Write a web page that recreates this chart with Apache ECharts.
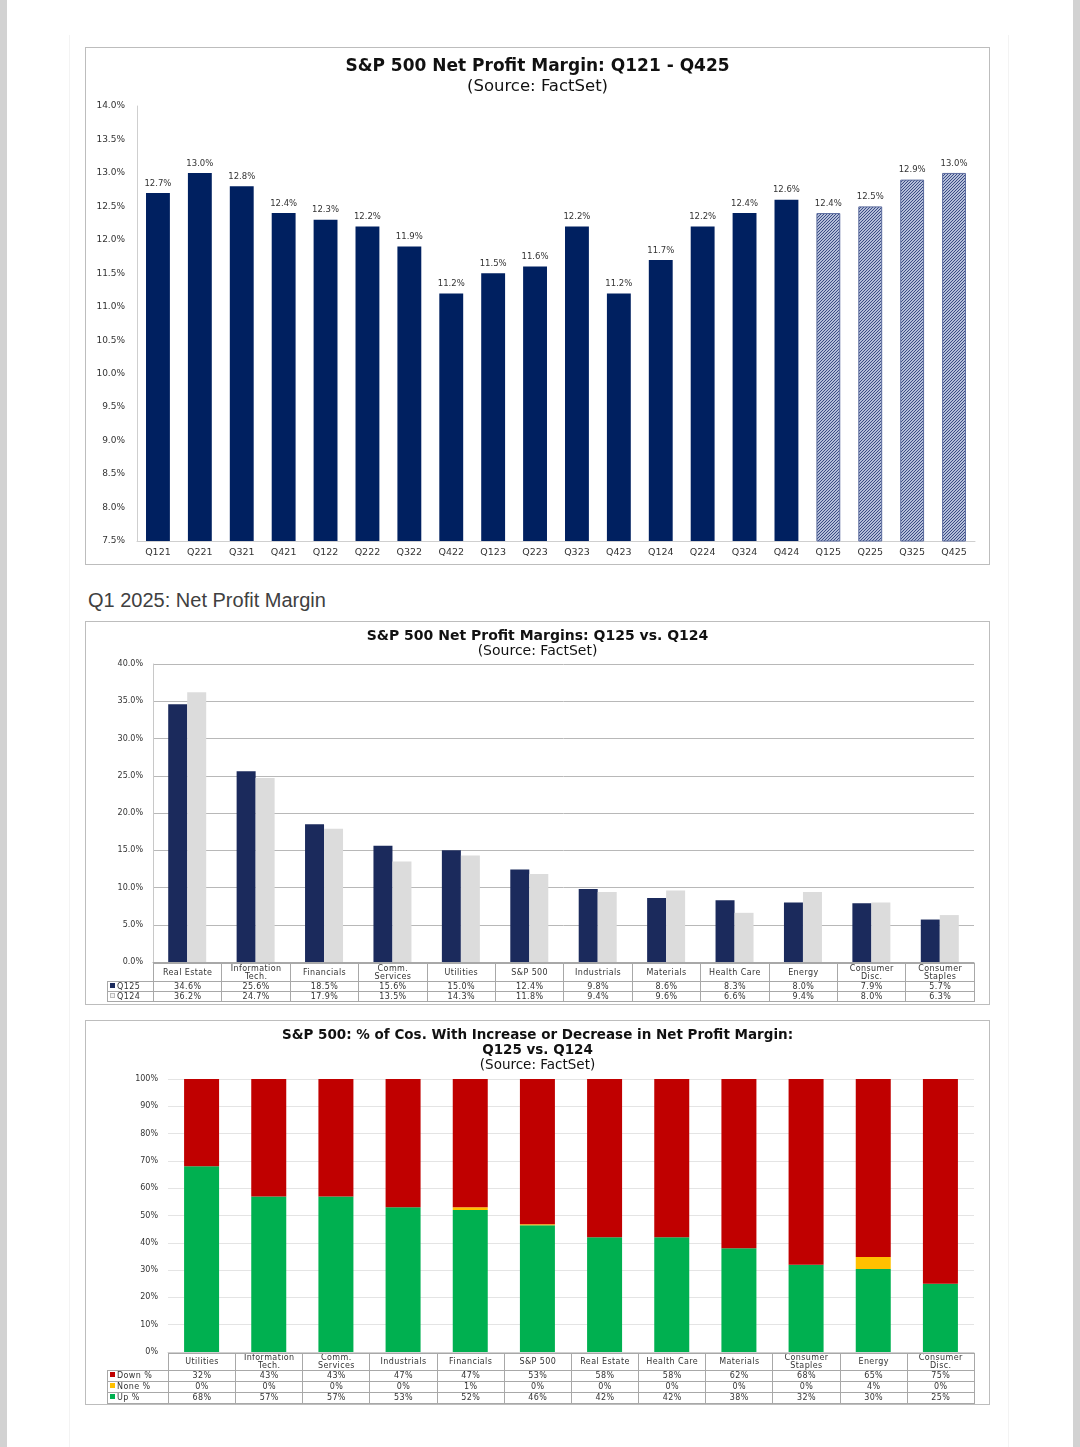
<!DOCTYPE html>
<html><head><meta charset="utf-8">
<script src="https://cdn.jsdelivr.net/npm/echarts@6/dist/echarts.min.js"></script>
<style>
body{margin:0;background:#fff;width:1080px;height:1447px;position:relative;overflow:hidden;font-family:"DejaVu Sans",sans-serif;}
.strip{position:absolute;top:0;width:7px;height:1447px;background:#d2d2d2;}
.page{position:absolute;left:69px;top:35px;width:938px;height:1412px;border-left:1px solid #f3f3f3;border-right:1px solid #f3f3f3;}
.frame{position:absolute;border:1px solid #bdbdbd;box-sizing:border-box;pointer-events:none;}
.chart{position:absolute;}
.sec{position:absolute;left:88px;top:589px;font-family:"Liberation Sans",sans-serif;font-size:20px;color:#404040;}
table.dt{position:absolute;border-collapse:collapse;table-layout:fixed;font-size:8px;color:#333;letter-spacing:0.4px;}
table.dt td{border:1px solid #a8a8a8;text-align:center;padding:0;white-space:nowrap;overflow:hidden;}
table.dt td.blank{border:none;}
table.dt td.lg{text-align:left;padding-left:2px;}
.sq{display:inline-block;width:5px;height:5px;margin-right:2px;vertical-align:middle;position:relative;top:-1px;}
</style></head><body>
<div class="strip" style="left:0"></div>
<div class="strip" style="left:1073px"></div>
<div class="page"></div>

<div id="c1" class="chart" style="left:85px;top:47px;width:905px;height:518px"></div>
<div class="frame" style="left:85px;top:47px;width:905px;height:518px"></div>

<div class="sec">Q1 2025: Net Profit Margin</div>

<div id="c2" class="chart" style="left:85px;top:621px;width:905px;height:384px"></div>
<div class="frame" style="left:85px;top:621px;width:905px;height:384px"></div>

<div id="c3" class="chart" style="left:85px;top:1020px;width:905px;height:385px"></div>
<div class="frame" style="left:85px;top:1020px;width:905px;height:385px"></div>

<script>
// ---------- Chart 1 data ----------
const quarters = ['Q121','Q221','Q321','Q421','Q122','Q222','Q322','Q422','Q123','Q223','Q323','Q423','Q124','Q224','Q324','Q424','Q125','Q225','Q325','Q425'];
const marginValues = [12.7,13.0,12.8,12.4,12.3,12.2,11.9,11.2,11.5,11.6,12.2,11.2,11.7,12.2,12.4,12.6,12.4,12.5,12.9,13.0];
const estimateQuarters = ['Q125','Q225','Q325','Q425'];

// ---------- Chart 2 data ----------
const sectors2 = ['Real Estate','Information\nTech.','Financials','Comm.\nServices','Utilities','S&P 500','Industrials','Materials','Health Care','Energy','Consumer\nDisc.','Consumer\nStaples'];
const q125Margins = [34.6,25.6,18.5,15.6,15.0,12.4,9.8,8.6,8.3,8.0,7.9,5.7];
const q124Margins = [36.2,24.7,17.9,13.5,14.3,11.8,9.4,9.6,6.6,9.4,8.0,6.3];

// ---------- Chart 3 data ----------
const sectors3 = ['Utilities','Information\nTech.','Comm.\nServices','Industrials','Financials','S&P 500','Real Estate','Health Care','Materials','Consumer\nStaples','Energy','Consumer\nDisc.'];
const downPct = [32,43,43,47,47,53.2,58,58,62,68,65.2,75];
const nonePct = [0,0,0,0,1,0.4,0,0,0,0,4.4,0];
const upPct   = [68,57,57,53,52,46.4,42,42,38,32,30.4,25];

const FONT = 'DejaVu Sans';

function hatch(){
  const c=document.createElement('canvas');c.width=c.height=3;
  const g=c.getContext('2d');
  g.fillStyle='#b4bed9';g.fillRect(0,0,3,3);
  g.strokeStyle='#3a4c84';g.lineWidth=1;
  g.beginPath();g.moveTo(0,3);g.lineTo(3,0);g.moveTo(-1,1);g.lineTo(1,-1);g.moveTo(2,4);g.lineTo(4,2);g.stroke();
  return c;
}
const hatchPattern={image:hatch(),repeat:'repeat'};

// ---------- Chart 1 ----------
const c1=echarts.init(document.getElementById('c1'));
c1.setOption({
  animation:false,
  title:{text:'S&P 500 Net Profit Margin: Q121 - Q425',subtext:'(Source: FactSet)',left:'center',top:6,itemGap:3,
    textStyle:{fontFamily:FONT,fontWeight:'bold',fontSize:17,color:'#111'},
    subtextStyle:{fontFamily:FONT,fontSize:16.5,color:'#111'}},
  grid:{left:52,right:15,top:59,bottom:24},
  xAxis:{type:'category',data:quarters,axisLine:{lineStyle:{color:'#cfcfcf'}},axisTick:{show:false},
    axisLabel:{color:'#333',fontSize:9.5,margin:7,fontFamily:FONT}},
  yAxis:{type:'value',min:7.5,max:14,interval:0.5,axisLine:{show:true,lineStyle:{color:'#cfcfcf'}},splitLine:{show:false},
    axisLabel:{formatter:v=>v.toFixed(1)+'%',fontSize:9,color:'#333',margin:12,fontFamily:FONT}},
  series:[{type:'bar',barWidth:'57%',
    data:marginValues.map((v,i)=>estimateQuarters.includes(quarters[i])?{value:v,itemStyle:{color:hatchPattern,borderColor:'#5c6c9e',borderWidth:1}}:v),
    itemStyle:{color:'#002060'},
    label:{show:true,position:'top',distance:5,fontSize:8.5,color:'#333',fontFamily:FONT,formatter:p=>p.value.toFixed(1)+'%'}}]
});

// ---------- Chart 2 ----------
const c2=echarts.init(document.getElementById('c2'));
c2.setOption({
  animation:false,
  title:{text:'S&P 500 Net Profit Margins: Q125 vs. Q124',subtext:'(Source: FactSet)',left:'center',top:3,itemGap:1,
    textStyle:{fontFamily:FONT,fontWeight:'bold',fontSize:14,color:'#111'},
    subtextStyle:{fontFamily:FONT,fontSize:14,color:'#111'}},
  grid:{left:68,right:16,top:43,bottom:43},
  xAxis:{type:'category',data:sectors2,axisLine:{lineStyle:{color:'#a8a8a8'}},axisTick:{show:false},axisLabel:{show:false}},
  yAxis:{type:'value',min:0,max:40,interval:5,axisLine:{show:true,lineStyle:{color:'#c8c8c8'}},
    splitLine:{lineStyle:{color:'#b8b8b8'}},
    axisLabel:{formatter:v=>v.toFixed(1)+'%',fontSize:8,color:'#333',margin:10,fontFamily:FONT}},
  series:[
    {name:'Q125',type:'bar',data:q125Margins,barWidth:19,barGap:'0%',itemStyle:{color:'#1b2a5c'}},
    {name:'Q124',type:'bar',data:q124Margins,barWidth:19,barGap:'0%',itemStyle:{color:'#dcdcdc'}}
  ]
});

// ---------- Chart 3 ----------
const c3=echarts.init(document.getElementById('c3'));
c3.setOption({
  animation:false,
  title:{text:'S&P 500: % of Cos. With Increase or Decrease in Net Profit Margin:\nQ125 vs. Q124',subtext:'(Source: FactSet)',left:'center',top:3,itemGap:0,
    textStyle:{fontFamily:FONT,fontWeight:'bold',fontSize:13.5,color:'#111',lineHeight:15},
    subtextStyle:{fontFamily:FONT,fontSize:13.5,color:'#111'}},
  grid:{left:83,right:16,top:59,bottom:53},
  xAxis:{type:'category',data:sectors3,axisLine:{lineStyle:{color:'#d0d0d0'}},axisTick:{show:false},axisLabel:{show:false}},
  yAxis:{type:'value',min:0,max:100,interval:10,axisLine:{show:false},
    splitLine:{lineStyle:{color:'#e4e4e4'}},
    axisLabel:{formatter:v=>v+'%',fontSize:8,color:'#333',margin:10,fontFamily:FONT}},
  series:[
    {name:'Up %',type:'bar',stack:'a',data:upPct,barWidth:35,itemStyle:{color:'#00b050'}},
    {name:'None %',type:'bar',stack:'a',data:nonePct,barWidth:35,itemStyle:{color:'#ffc000'}},
    {name:'Down %',type:'bar',stack:'a',data:downPct,barWidth:35,itemStyle:{color:'#c00000'}}
  ]
});

// ---------- data tables ----------
function buildTable(left,top,firstW,colW,headH,rowH,cats,rows){
  const t=document.createElement('table');t.className='dt';
  t.style.left=left+'px';t.style.top=top+'px';
  t.style.width=(firstW+colW*cats.length)+'px';
  let h='<colgroup><col style="width:'+firstW+'px">'+cats.map(()=>'<col style="width:'+colW+'px">').join('')+'</colgroup>';
  h+='<tr style="height:'+headH+'px"><td class="blank"></td>'+cats.map(c=>'<td style="line-height:8px">'+c.replace('\n','<br>')+'</td>').join('')+'</tr>';
  rows.forEach(r=>{
    h+='<tr style="height:'+rowH+'px;line-height:'+(rowH-1)+'px"><td class="lg"><span class="sq" style="background:'+r.color+';'+(r.outline?'border:1px solid #bbb;width:3px;height:3px':'')+'"></span>'+r.name+'</td>'+
      r.values.map(v=>'<td>'+r.fmt(v)+'</td>').join('')+'</tr>';
  });
  t.innerHTML=h;document.body.appendChild(t);
}
buildTable(107,963,46,(974-153)/12,18,10,sectors2,[
  {name:'Q125',color:'#1b2a5c',values:q125Margins,fmt:v=>v.toFixed(1)+'%'},
  {name:'Q124',color:'#f2f2f2',outline:true,values:q124Margins,fmt:v=>v.toFixed(1)+'%'}
]);
buildTable(107,1353,61,(974-168)/12,17,11,sectors3,[
  {name:'Down %',color:'#c00000',values:downPct,fmt:v=>Math.round(v)+'%'},
  {name:'None %',color:'#ffc000',values:nonePct,fmt:v=>Math.round(v)+'%'},
  {name:'Up %',color:'#00b050',values:upPct,fmt:v=>Math.round(v)+'%'}
]);
</script>
</body></html>
